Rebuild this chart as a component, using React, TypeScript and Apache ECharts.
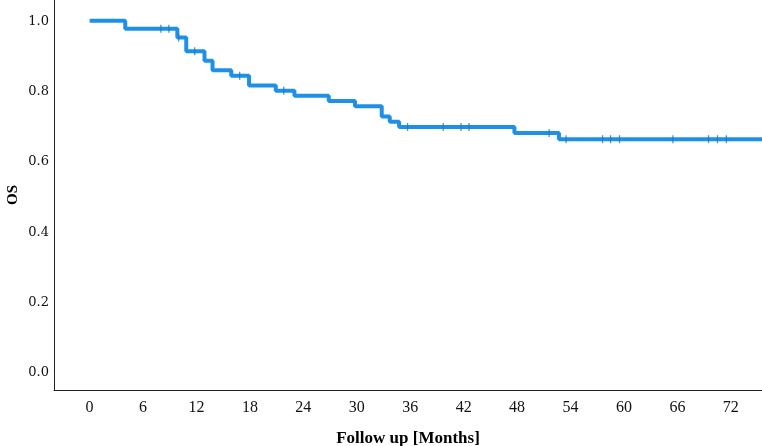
import React, { useEffect, useRef } from "react";
import * as echarts from "echarts";

// Kaplan-Meier step points (time in months, survival probability)
const eventTimes = [0, 4, 9.85, 10.85, 12.9, 13.8, 15.9, 17.9, 20.9, 23, 26.85, 29.8, 32.8, 33.7, 34.75, 47.7, 52.7];
const survival = [1.0, 0.977, 0.952, 0.913, 0.886, 0.859, 0.843, 0.815, 0.8, 0.786, 0.771, 0.756, 0.727, 0.712, 0.697, 0.68, 0.662];
const lastFollowUp = 75.5;
// Censored observations (months)
const censorTimes = [8, 8.9, 10.0, 11.8, 16.85, 21.8, 35.7, 39.7, 41.7, 42.6, 51.6, 53.5, 57.6, 58.5, 59.5, 65.5, 69.5, 70.5, 71.5];
const xTicks = [0, 6, 12, 18, 24, 30, 36, 42, 48, 54, 60, 66, 72];
const yTicks = [0, 0.2, 0.4, 0.6, 0.8, 1.0];

function levelAt(t: number): number {
  let s = survival[0];
  for (let i = 0; i < eventTimes.length; i++) {
    if (eventTimes[i] <= t) s = survival[i];
  }
  return s;
}

export default function App() {
  const ref = useRef<HTMLDivElement>(null);
  useEffect(() => {
    if (!ref.current) return;
    const chart = echarts.init(ref.current, null, { renderer: "svg" });
    const stepData = eventTimes.map((t, i) => [t, survival[i]]);
    stepData.push([lastFollowUp, survival[survival.length - 1]]);
    const censorData = censorTimes.map((t) => [t, levelAt(t)]);
    const blue = "#1e90e8";
    chart.setOption({
      animation: false,
      grid: { left: 54, right: 0, top: 0, bottom: 56, containLabel: false, outerBoundsMode: "none" },
      xAxis: {
        type: "value",
        min: -4,
        max: lastFollowUp,
        name: "Follow up [Months]",
        nameLocation: "middle",
        nameGap: 39,
        nameMoveOverlap: false,
        nameTextStyle: { fontFamily: "Liberation Serif", fontWeight: "bold", fontSize: 17, color: "#000" },
        axisLine: { show: true, onZero: false, lineStyle: { color: "#222", width: 1 } },
        axisTick: { show: false },
        splitLine: { show: false },
        axisLabel: {
          customValues: xTicks,
          margin: 8,
          fontFamily: "Liberation Serif",
          fontSize: 16,
          color: "#111",
        },
      },
      yAxis: {
        type: "value",
        min: -0.053,
        max: 1.059,
        name: "OS",
        nameLocation: "middle",
        nameGap: 35,
        nameMoveOverlap: false,
        nameTextStyle: { fontFamily: "Liberation Serif", fontWeight: "bold", fontSize: 15, color: "#000" },
        axisLine: { show: true, onZero: false, lineStyle: { color: "#222", width: 1 } },
        axisTick: { show: false },
        splitLine: { show: false },
        axisLabel: {
          customValues: yTicks,
          margin: 5,
          fontFamily: "DejaVu Serif",
          fontSize: 13,
          color: "#111",
          formatter: (v: number) => v.toFixed(1),
        },
      },
      series: [
        {
          type: "line",
          step: "end",
          data: stepData,
          showSymbol: false,
          symbol: "none",
          lineStyle: { color: blue, width: 4 },
          z: 2,
        },
        {
          type: "scatter",
          data: censorData,
          symbol: "rect",
          symbolSize: [1.3, 8],
          itemStyle: { color: "#1a78c8" },
          z: 3,
        },
      ],
    });
    return () => chart.dispose();
  }, []);
  return <div ref={ref} style={{ position: "fixed", left: 0, top: 0, width: 762, height: 446 }} />;
}
